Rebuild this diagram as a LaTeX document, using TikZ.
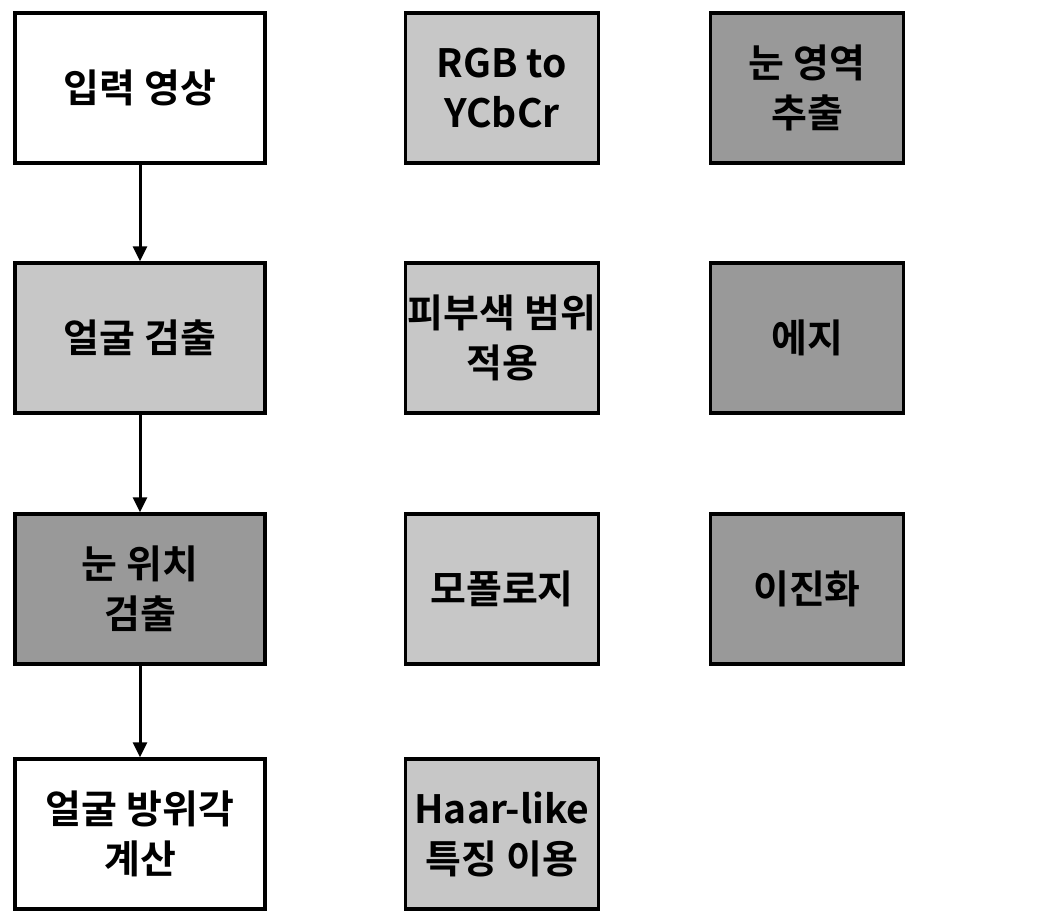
\documentclass[tikz,border=0pt]{standalone}
\usepackage{fontspec}
\setmainfont{Noto Sans CJK KR}[BoldFont={* Bold}]
\usetikzlibrary{arrows.meta}
\tikzset{
  box/.style={draw=black, line width=3.5pt, minimum height=150pt, inner sep=0pt, align=center,
    font=\fontsize{39}{50}\selectfont\bfseries},
  wide/.style={box, minimum width=250pt},
  narrow/.style={box, minimum width=193pt},
  plain/.style={fill=white},
  light/.style={fill=black!22},
  dark/.style={fill=black!40},
  flow/.style={draw=black, line width=3pt, -{Triangle[width=14pt,length=15pt]}}
}
\begin{document}
\begin{tikzpicture}[x=1pt,y=-1pt]
\useasboundingbox (0,0) rectangle (1049,910);
\node[wide,plain] (in)   at (140,88)  {입력 영상};
\node[wide,light] (face) at (140,338) {얼굴 검출};
\node[wide,dark]  (eye)  at (140,589) {눈 위치\\검출};
\node[wide,plain] (ang)  at (140,834) {얼굴 방위각\\계산};
\node[narrow,light] (rgb)  at (502,88)  {RGB to\\YCbCr};
\node[narrow,light] (skin) at (502,338) {피부색 범위\\적용};
\node[narrow,light] (mor)  at (502,589) {모폴로지};
\node[narrow,light] (haar) at (502,834) {Haar-like\\특징 이용};
\node[narrow,dark] (reg)  at (807,88)  {눈 영역\\추출};
\node[narrow,dark] (edge) at (807,338) {에지};
\node[narrow,dark] (bin)  at (807,589) {이진화};
\draw[flow] (in) -- (face);
\draw[flow] (face) -- (eye);
\draw[flow] (eye) -- (ang);
\end{tikzpicture}
\end{document}
